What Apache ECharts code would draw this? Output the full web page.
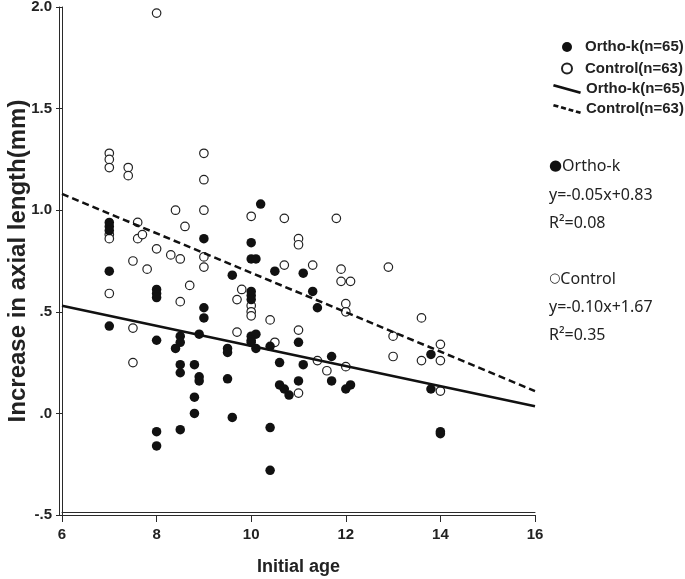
<!DOCTYPE html>
<html><head><meta charset="utf-8">
<script src="https://cdn.jsdelivr.net/npm/echarts@6/dist/echarts.min.js"></script>
<style>html,body{margin:0;padding:0;background:#fff}#c{width:685px;height:579px}</style>
</head><body><div id="c"></div>
<script>
// Ortho-k group (filled circles)
const orthoAge = [7.0,7.0,7.0,7.0,7.0, 8.0,8.0,8.0,8.0,8.0,8.0, 8.4,8.5,8.5,8.5,8.5,8.5, 8.8,8.8,8.8,8.9,8.9,8.9, 9.0,9.0,9.0, 9.5,9.5,9.5,9.6,9.6, 10.0,10.0,10.1,10.0,10.0,10.0,10.0,10.1,10.0,10.0,10.1, 10.2,10.4,10.4,10.4,10.5,10.6,10.6,10.7,10.8, 11.0,11.0,11.1,11.1,11.3,11.4,11.7,11.7,12.0,12.1, 13.8,13.8,14.0,14.0];
const orthoInc = [0.94,0.92,0.90,0.70,0.43, 0.61,0.59,0.57,0.36,-0.09,-0.16, 0.32,0.38,0.35,0.24,0.20,-0.08, 0.24,0.08,0.00,0.39,0.18,0.16, 0.86,0.52,0.47, 0.32,0.30,0.17,0.68,-0.02, 0.84,0.76,0.76,0.60,0.58,0.56,0.38,0.39,0.36,0.35,0.32, 1.03,0.33,-0.07,-0.28,0.70,0.25,0.14,0.12,0.09, 0.35,0.16,0.69,0.24,0.60,0.52,0.28,0.16,0.12,0.14, 0.29,0.12,-0.09,-0.10];
// Control group (open circles)
const controlAge = [7.0,7.0,7.0,7.0,7.0,7.0, 7.4,7.4,7.5,7.5,7.5,7.6,7.6,7.7,7.8, 8.0,8.0,8.3,8.4,8.5,8.5,8.6,8.7, 9.0,9.0,9.0,9.0,9.0, 9.7,9.7,9.8, 10.0,10.0,10.0,10.0,10.4,10.5,10.7,10.7, 11.0,11.0,11.0,11.0,11.3,11.4,11.6,11.8,11.9,11.9, 12.0,12.0,12.0,12.1,12.9,13.0,13.0,13.6,13.6,14.0,14.0,14.0];
const controlInc = [1.28,1.25,1.21,0.88,0.86,0.59, 1.21,1.17,0.75,0.42,0.25,0.94,0.86,0.88,0.71, 1.97,0.81,0.78,1.00,0.76,0.55,0.92,0.63, 1.28,1.15,1.00,0.77,0.72, 0.56,0.40,0.61, 0.97,0.53,0.50,0.48,0.46,0.35,0.96,0.73, 0.86,0.83,0.41,0.10,0.73,0.26,0.21,0.96,0.71,0.65, 0.54,0.50,0.23,0.65,0.72,0.38,0.28,0.47,0.26,0.34,0.26,0.11];
// Fitted regression lines (end points)
const orthoFitAge = [6, 16];
const orthoFitInc = [0.53, 0.035];
const controlFitAge = [6, 16];
const controlFitInc = [1.08, 0.11];
// Tick labels
const yTickValues = [-0.5, 0, 0.5, 1.0, 1.5, 2.0];
const yTickLabels = ['-.5', '.0', '.5', '1.0', '1.5', '2.0'];
const legendLabels = {orthoPts: 'Ortho-k(n=65)', controlPts: 'Control(n=63)', orthoFit: 'Ortho-k(n=65)', controlFit: 'Control(n=63)'};
const noteLines = ['{d|●}Ortho-k', 'y=-0.05x+0.83', 'R²=0.08', '{o|○}Control', 'y=-0.10x+1.67', 'R²=0.35'];

const pairs = (xs, ys) => xs.map((x, i) => [x, ys[i]]);
const AX = '#2a2a2a';
const FONT = 'Liberation Sans';

// legend icons: slanted solid / dashed strokes (rotated rectangles) in a 28x10 box
function strokeIcon(segs) {
  const W = 28, H = 10, h = 1.3;
  const nx0 = -H, ny0 = W, nl = Math.hypot(nx0, ny0);
  const nx = nx0 / nl * h, ny = ny0 / nl * h;
  const P0 = [Math.abs(nx), Math.abs(ny)], P1 = [W - Math.abs(nx), H - Math.abs(ny)];
  let p = 'path://';
  segs.forEach(([a, b]) => {
    const ax = P0[0] + (P1[0] - P0[0]) * a, ay = P0[1] + (P1[1] - P0[1]) * a;
    const bx = P0[0] + (P1[0] - P0[0]) * b, by = P0[1] + (P1[1] - P0[1]) * b;
    const pts = [[ax - nx, ay - ny], [bx - nx, by - ny], [bx + nx, by + ny], [ax + nx, ay + ny]];
    p += 'M' + pts.map(q => q[0].toFixed(2) + ',' + q[1].toFixed(2)).join(' L') + ' Z ';
  });
  return p.trim();
}
const solidIcon = strokeIcon([[0, 1]]);
const dashIcon = strokeIcon([[0, 0.18], [0.28, 0.46], [0.56, 0.73], [0.83, 1.0]]);
const lineIconStyle = {color: '#111', borderWidth: 0, opacity: 1};

const noteY = [166, 195, 223, 279, 307, 335];

const chart = echarts.init(document.getElementById('c'), null, {renderer: 'canvas'});
chart.setOption({
  animation: false,
  backgroundColor: '#fff',
  grid: {left: 62, right: 150, top: 7, bottom: 64, containLabel: false, outerBoundsMode: 'none'},
  xAxis: [{
    type: 'value', min: 6, max: 16, interval: 2, position: 'bottom',
    axisLine: {show: true, onZero: false, lineStyle: {color: AX, width: 1}},
    axisTick: {show: true, length: 7, lineStyle: {color: AX, width: 1}},
    axisLabel: {fontFamily: FONT, fontWeight: 'bold', fontSize: 15, color: '#222', margin: 12},
    splitLine: {show: false},
    name: 'Initial age', nameLocation: 'middle', nameGap: 43, nameMoveOverlap: false,
    nameTextStyle: {fontFamily: FONT, fontWeight: 'bold', fontSize: 18, color: '#222'}
  }, {
    type: 'value', min: 6, max: 16, position: 'bottom', offset: -3,
    axisLine: {show: true, onZero: false, lineStyle: {color: AX, width: 1}},
    axisTick: {show: false}, axisLabel: {show: false}, splitLine: {show: false}
  }],
  yAxis: [{
    type: 'value', min: -0.5, max: 2.0, interval: 0.5, position: 'left',
    axisLine: {show: true, onZero: false, lineStyle: {color: AX, width: 1}},
    axisTick: {show: true, length: 6, lineStyle: {color: AX, width: 1}},
    axisLabel: {
      fontFamily: FONT, fontWeight: 'bold', fontSize: 15, color: '#222', margin: 10,
      formatter: v => { const i = yTickValues.findIndex(t => Math.abs(t - v) < 1e-9); return i >= 0 ? yTickLabels[i] : ''; }
    },
    splitLine: {show: false},
    name: 'Increase in axial length(mm)', nameLocation: 'middle', nameGap: 32, nameRotate: 90, nameMoveOverlap: false,
    nameTextStyle: {fontFamily: FONT, fontWeight: 'bold', fontSize: 24, color: '#222'}
  }, {
    type: 'value', min: -0.5, max: 2.0, position: 'left', offset: 2.5,
    axisLine: {show: true, onZero: false, lineStyle: {color: AX, width: 1}},
    axisTick: {show: false}, axisLabel: {show: false}, splitLine: {show: false}
  }],
  legend: [{
    data: ['orthoPts', 'controlPts'], orient: 'vertical', left: 556, top: 34,
    itemWidth: 26, itemHeight: 10, itemGap: 5.5, selectedMode: false,
    formatter: n => legendLabels[n],
    textStyle: {fontFamily: FONT, fontWeight: 'bold', fontSize: 15, color: '#222', lineHeight: 16}
  }, {
    data: [
      {name: 'orthoFit', icon: solidIcon, itemStyle: lineIconStyle},
      {name: 'controlFit', icon: dashIcon, itemStyle: lineIconStyle}
    ],
    orient: 'vertical', left: 548, top: 76,
    itemWidth: 28, itemHeight: 10, itemGap: 4, selectedMode: false,
    itemStyle: lineIconStyle,
    formatter: n => legendLabels[n],
    textStyle: {fontFamily: FONT, fontWeight: 'bold', fontSize: 15, color: '#222', lineHeight: 16}
  }],
  graphic: noteLines.map((t, i) => ({
    type: 'text', x: 549, y: noteY[i],
    style: {
      text: t, font: '16px "Noto Sans"', fill: '#222', textVerticalAlign: 'middle', verticalAlign: 'middle',
      rich: {
        d: {fontSize: 15, fontFamily: 'DejaVu Sans', fill: '#111', color: '#111'},
        o: {fontSize: 13, fontFamily: 'DejaVu Sans', fill: '#222', color: '#222'}
      }
    }
  })),
  series: [{
    name: 'controlPts', type: 'scatter', data: pairs(controlAge, controlInc),
    symbol: 'circle', symbolSize: 8.5, z: 2,
    itemStyle: {color: '#fff', borderColor: '#222', borderWidth: 1.2, opacity: 1}
  }, {
    name: 'orthoPts', type: 'scatter', data: pairs(orthoAge, orthoInc),
    symbol: 'circle', symbolSize: 9.5, z: 3,
    itemStyle: {color: '#111', opacity: 1}
  }, {
    name: 'orthoFit', type: 'line', data: pairs(orthoFitAge, orthoFitInc),
    symbol: 'none', z: 4, silent: true,
    lineStyle: {color: '#111', width: 2.5, type: 'solid'}, itemStyle: {color: '#111'}
  }, {
    name: 'controlFit', type: 'line', data: pairs(controlFitAge, controlFitInc),
    symbol: 'none', z: 4, silent: true,
    lineStyle: {color: '#111', width: 2.5, type: [7, 4]}, itemStyle: {color: '#111'}
  }]
});
</script>
</body></html>
